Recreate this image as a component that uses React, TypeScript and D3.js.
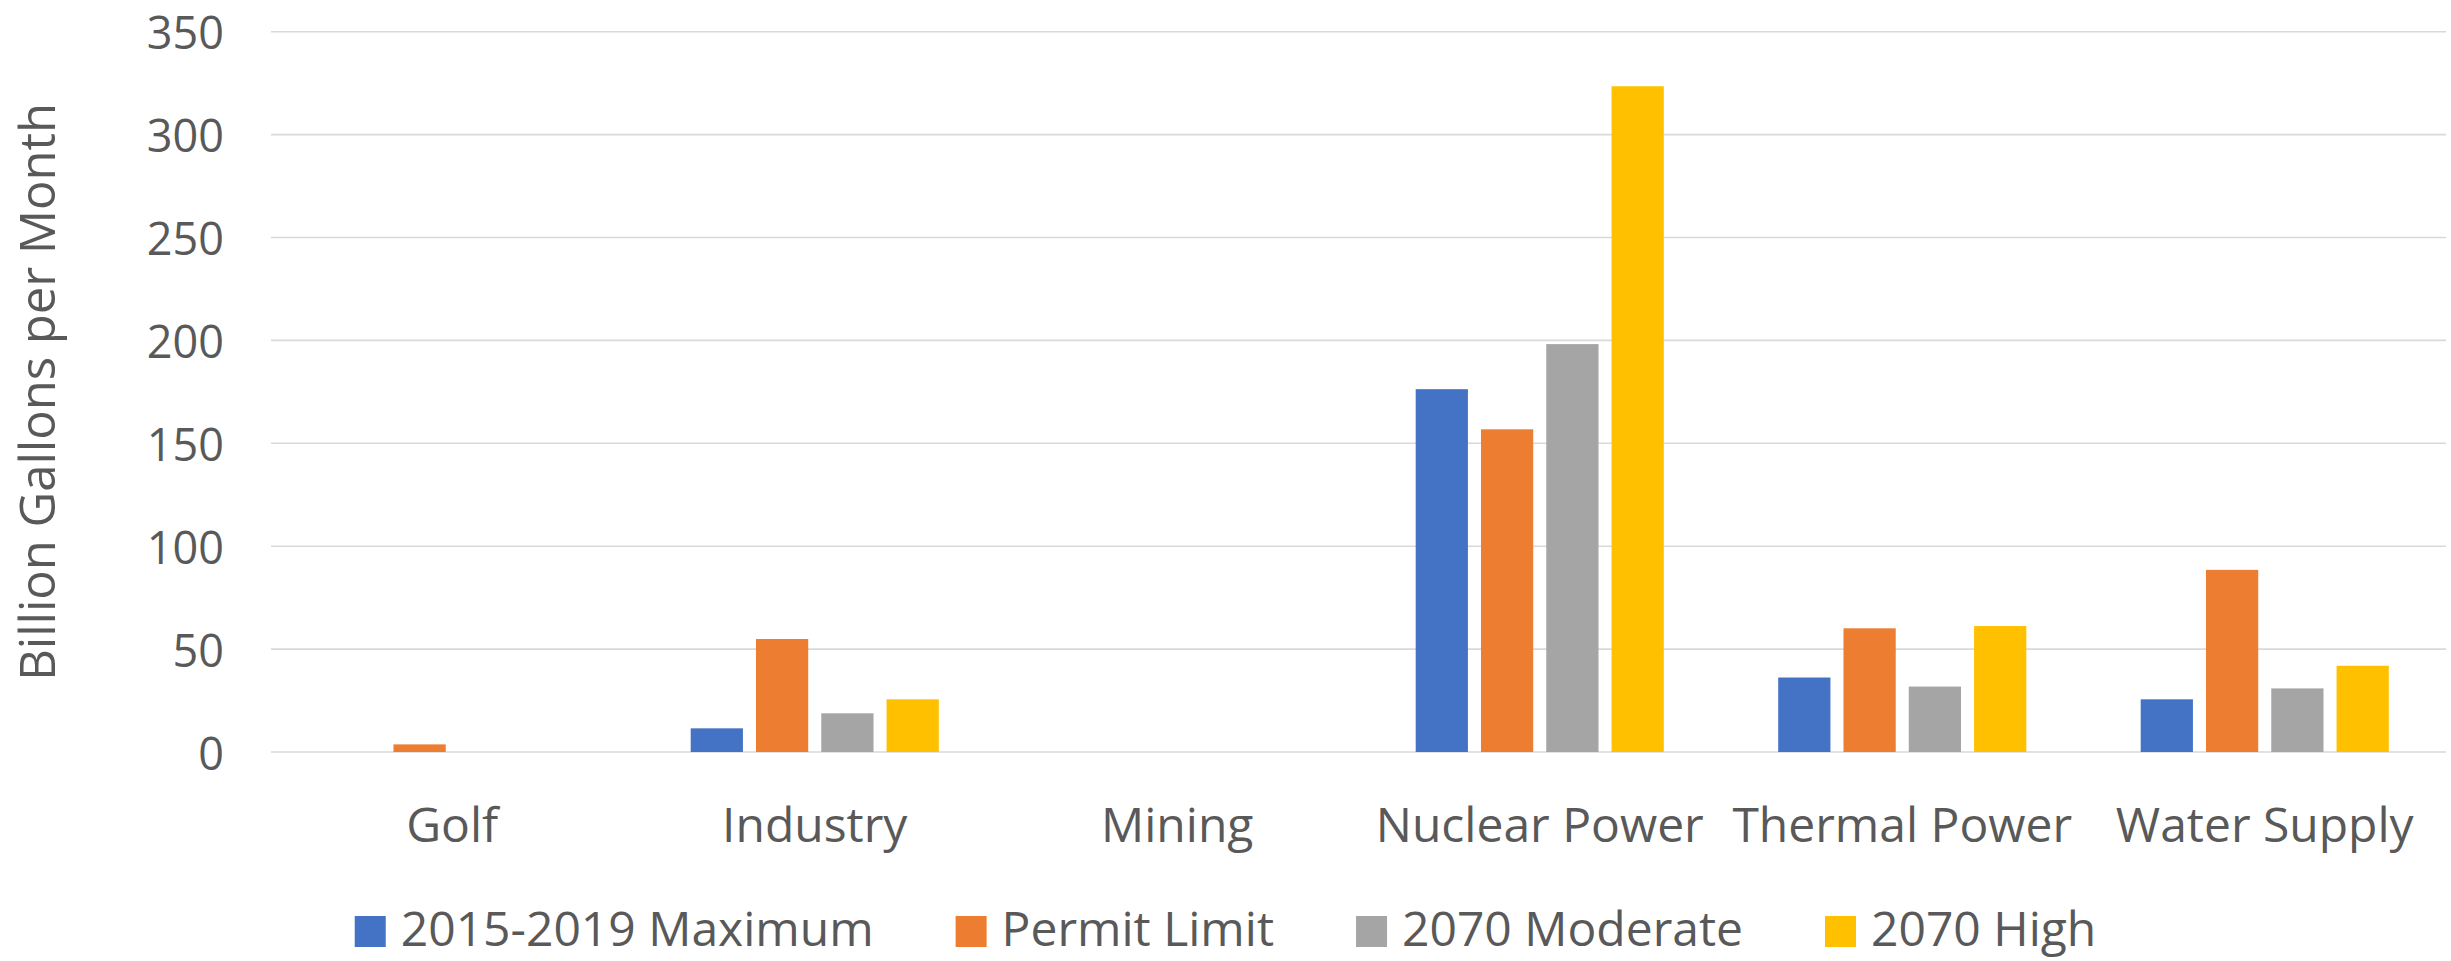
import React, { useEffect, useRef } from 'react';
import * as d3 from 'd3';

const categories = ['Golf', 'Industry', 'Mining', 'Nuclear Power', 'Thermal Power', 'Water Supply'];
const seriesNames = ['2015-2019 Maximum', 'Permit Limit', '2070 Moderate', '2070 High'];
const maximum2015to2019 = [0, 11.5, 0, 176.3, 36.2, 25.6];
const permitLimit = [3.7, 54.9, 0, 156.8, 60.1, 88.5];
const moderate2070 = [0, 18.8, 0, 198.2, 31.8, 30.9];
const high2070 = [0, 25.6, 0, 323.5, 61.2, 41.9];
const seriesColors = ['#4472C4', '#ED7D31', '#A5A5A5', '#FFC000'];
const yTicks = [0, 50, 100, 150, 200, 250, 300, 350];
const yAxisTitle = 'Billion Gallons per Month';

const W = 2451;
const H = 961;
const FONT = '"Open Sans", "Noto Sans", sans-serif';
const TEXT = '#595959';

export default function App() {
  const ref = useRef<SVGSVGElement | null>(null);

  useEffect(() => {
    const svg = d3.select(ref.current);
    svg.selectAll('*').remove();

    const seriesValues = [maximum2015to2019, permitLimit, moderate2070, high2070];
    const left = 271;
    const right = 2446;
    const top = 31.7;
    const bottom = 752;

    const y = d3.scaleLinear().domain([0, 350]).range([bottom, top]);
    const x0 = d3.scaleBand<string>().domain(categories).range([left, right]).padding(0);
    const bw = x0.bandwidth();
    // Excel-like: gap width 219%, overlap -25%
    const barW = bw / (4 + 3 * 0.25 + 2.19);
    const step = barW * 1.25;
    const outer = (bw / step - 3.8) / 2;
    const x1 = d3.scaleBand<number>().domain([0, 1, 2, 3]).range([0, bw]).paddingInner(0.2).paddingOuter(outer);

    // gridlines
    svg.append('g')
      .selectAll('line')
      .data(yTicks)
      .join('line')
      .attr('x1', left)
      .attr('x2', right)
      .attr('y1', (d) => y(d))
      .attr('y2', (d) => y(d))
      .attr('stroke', '#d9d9d9')
      .attr('stroke-width', 1.6);

    // y tick labels
    svg.append('g')
      .selectAll('text')
      .data(yTicks)
      .join('text')
      .attr('x', 224)
      .attr('y', (d) => y(d))
      .attr('text-anchor', 'end')
      .attr('dominant-baseline', 'central')
      .attr('font-family', FONT)
      .attr('font-size', 45)
      .attr('fill', TEXT)
      .text((d) => String(d));

    // axis title
    svg.append('text')
      .attr('transform', `translate(36, ${(top + bottom) / 2}) rotate(-90)`)
      .attr('text-anchor', 'middle')
      .attr('dominant-baseline', 'central')
      .attr('font-family', FONT)
      .attr('font-size', 49)
      .attr('fill', TEXT)
      .text(yAxisTitle);

    // bars
    const groups = svg.append('g')
      .selectAll('g')
      .data(categories)
      .join('g')
      .attr('transform', (c) => `translate(${x0(c)},0)`);

    groups.selectAll('rect')
      .data((c) => seriesValues.map((vals, si) => ({ si, v: vals[categories.indexOf(c)] })))
      .join('rect')
      .attr('x', (d) => x1(d.si) as number)
      .attr('width', x1.bandwidth())
      .attr('y', (d) => y(d.v))
      .attr('height', (d) => Math.max(0, bottom - y(d.v)))
      .attr('fill', (d) => seriesColors[d.si]);

    // category labels
    svg.append('g')
      .selectAll('text')
      .data(categories)
      .join('text')
      .attr('x', (c) => (x0(c) as number) + bw / 2)
      .attr('y', 842)
      .attr('text-anchor', 'middle')
      .attr('font-family', FONT)
      .attr('font-size', 48)
      .attr('fill', TEXT)
      .text((c) => c);

    // legend
    const sw = 31;
    const swGap = 15;
    const itemGap = 82;
    const lg = svg.append('g');
    const items = seriesNames.map((name, i) => {
      const g = lg.append('g');
      g.append('rect').attr('width', sw).attr('height', sw).attr('y', 916).attr('fill', seriesColors[i]);
      const t = g.append('text')
        .attr('x', sw + swGap)
        .attr('y', 946)
        .attr('font-family', FONT)
        .attr('font-size', 48)
        .attr('fill', TEXT)
        .text(name);
      const tw = (t.node() as SVGTextElement).getComputedTextLength();
      return { g, w: sw + swGap + tw };
    });
    const total = d3.sum(items, (d) => d.w) + itemGap * (items.length - 1);
    let cx = W / 2 - total / 2;
    items.forEach((it) => {
      it.g.attr('transform', `translate(${cx},0)`);
      cx += it.w + itemGap;
    });
  }, []);

  return (
    <svg
      ref={ref}
      width={W}
      height={H}
      style={{ position: 'absolute', left: 0, top: 0, background: '#fff' }}
    />
  );
}
